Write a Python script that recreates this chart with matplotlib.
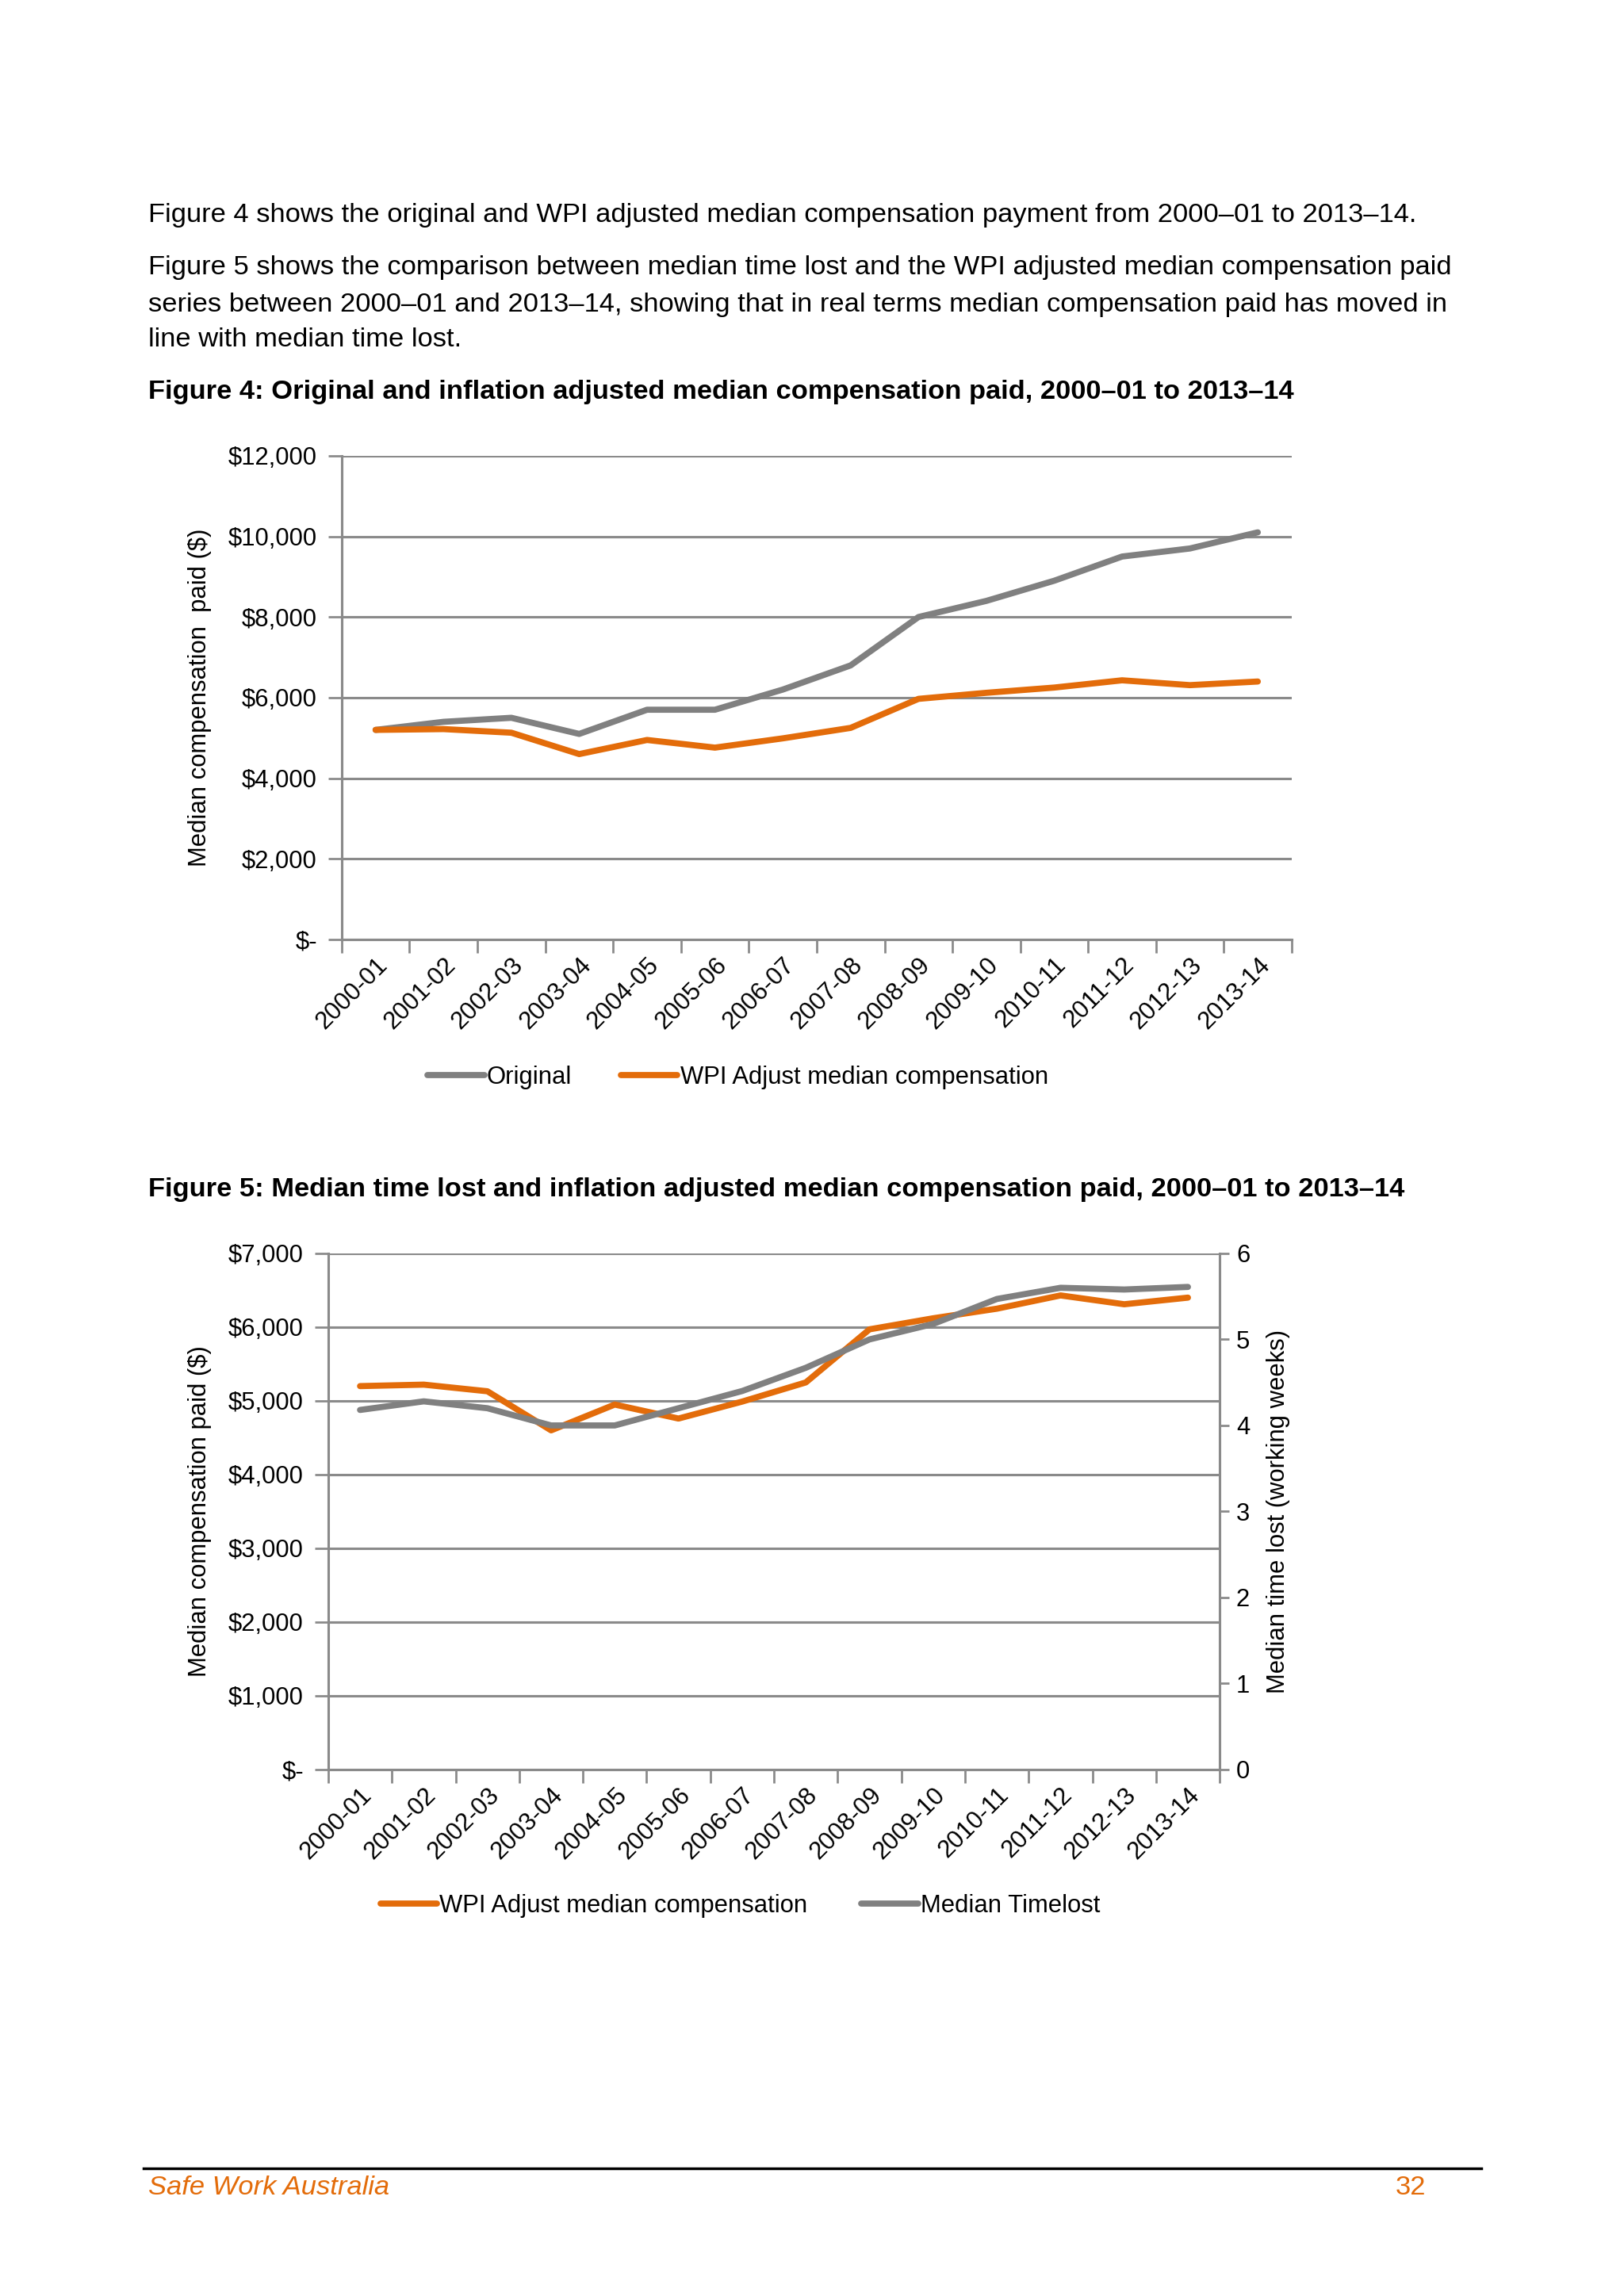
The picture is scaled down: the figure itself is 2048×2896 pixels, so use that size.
import matplotlib.pyplot as plt
from matplotlib.ticker import FuncFormatter, FixedLocator

# Datos
years = ["2000-01", "2001-02", "2002-03", "2003-04", "2004-05", "2005-06", "2006-07",
         "2007-08", "2008-09", "2009-10", "2010-11", "2011-12", "2012-13", "2013-14"]
original = [5200, 5400, 5500, 5100, 5700, 5700, 6200, 6800, 8000, 8400, 8900, 9500, 9700, 10100]
wpi_adjusted = [5200, 5220, 5130, 4600, 4950, 4760, 4990, 5250, 5970, 6120, 6250, 6430, 6310, 6400]
timelost = [4.18, 4.28, 4.20, 4.00, 4.00, 4.20, 4.40, 4.67, 5.00, 5.18, 5.47, 5.60, 5.58, 5.61]

ORANGE = "#E36C0A"
GREY = "#808080"
AXGREY = "#8A8A8A"
CHART_FS = 9

plt.rcParams['font.family'] = ['Liberation Sans', 'DejaVu Sans']
plt.rcParams['font.size'] = 10

fig = plt.figure(figsize=(2048 / 248, 2896 / 248), dpi=248)


def money(v, pos):
    if v == 0:
        return "$-"
    return "${:,.0f}".format(v)


def style_axis(ax, ymax, ystep):
    x = range(len(years))
    ax.set_xlim(-0.5, len(years) - 0.5)
    ax.set_ylim(0, ymax)
    ax.set_yticks(range(0, ymax + 1, ystep))
    ax.yaxis.set_major_formatter(FuncFormatter(money))
    ax.set_xticks(list(x))
    ax.set_xticklabels(years, rotation=45, ha="right", rotation_mode="anchor")
    ax.xaxis.set_minor_locator(FixedLocator([i - 0.5 for i in range(len(years) + 1)]))
    ax.tick_params(axis="x", which="major", length=0, pad=5, labelsize=CHART_FS)
    ax.tick_params(axis="x", which="minor", length=5, color=AXGREY, width=0.8)
    ax.tick_params(axis="y", length=5, color=AXGREY, width=0.8, pad=4, labelsize=CHART_FS)
    ax.grid(axis="y", color=AXGREY, linewidth=0.9)
    ax.set_axisbelow(True)
    for s in ["top", "right"]:
        ax.spines[s].set_visible(False)
    for s in ["left", "bottom"]:
        ax.spines[s].set_color(AXGREY)
        ax.spines[s].set_linewidth(0.9)


# Texto de la pagina
tx = 187 / 2048
fig.text(tx, 0.9062, "Figure 4 shows the original and WPI adjusted median compensation payment from 2000\u201301 to 2013\u201314.",
         va="center", fontsize=10)
fig.text(tx, 0.8834, "Figure 5 shows the comparison between median time lost and the WPI adjusted median compensation paid",
         va="center", fontsize=10)
fig.text(tx, 0.8671, "series between 2000\u201301 and 2013\u201314, showing that in real terms median compensation paid has moved in",
         va="center", fontsize=10)
fig.text(tx, 0.8519, "line with median time lost.", va="center", fontsize=10)
fig.text(tx, 0.8294, "Figure 4: Original and inflation adjusted median compensation paid, 2000\u201301 to 2013\u201314",
         va="center", fontsize=10, fontweight="bold")
fig.text(tx, 0.4818, "Figure 5: Median time lost and inflation adjusted median compensation paid, 2000\u201301 to 2013\u201314",
         va="center", fontsize=10, fontweight="bold")

# Figura 4
ax1 = fig.add_axes([0.2104, 0.5908, 0.585, 0.2107])
style_axis(ax1, 12000, 2000)
ax1.plot(range(len(years)), original, color=GREY, lw=2.25, label="Original", solid_capstyle="round")
ax1.plot(range(len(years)), wpi_adjusted, color=ORANGE, lw=2.25, label="WPI Adjust median compensation",
         solid_capstyle="round")
ax1.set_ylabel("Median compensation  paid ($)", labelpad=6, fontsize=CHART_FS)
ax1.legend(loc="center", bbox_to_anchor=(0.417, -0.285), ncol=2, frameon=False, fontsize=CHART_FS,
           handlelength=2.3, handletextpad=0.1, columnspacing=2.0)

# Figura 5
ax2 = fig.add_axes([0.2021, 0.2293, 0.549, 0.2248])
style_axis(ax2, 7000, 1000)
ax2.spines["right"].set_visible(True)
ax2.spines["right"].set_color(AXGREY)
ax2.spines["right"].set_linewidth(0.9)
l1, = ax2.plot(range(len(years)), wpi_adjusted, color=ORANGE, lw=2.25, label="WPI Adjust median compensation",
               solid_capstyle="round")
ax2.set_ylabel("Median compensation paid ($)", labelpad=6, fontsize=CHART_FS)

ax3 = ax2.twinx()
ax3.set_ylim(0, 6)
ax3.set_yticks(range(0, 7))
l2, = ax3.plot(range(len(years)), timelost, color=GREY, lw=2.25, label="Median Timelost", solid_capstyle="round")
ax3.tick_params(axis="y", length=3.5, color=AXGREY, width=0.8, pad=2.5, labelsize=CHART_FS)
for s in ["top", "left", "bottom"]:
    ax3.spines[s].set_visible(False)
ax3.spines["right"].set_color(AXGREY)
ax3.set_ylabel("Median time lost (working weeks)", labelpad=6, fontsize=CHART_FS)
ax2.legend(handles=[l1, l2], loc="center", bbox_to_anchor=(0.462, -0.264), ncol=2, frameon=False,
           fontsize=CHART_FS, handlelength=2.3, handletextpad=0.1, columnspacing=2.2)

# Pie de pagina
fig.add_artist(plt.Line2D([181 / 2048, 1868 / 2048], [1 - 2735 / 2896] * 2, color="black", lw=1.0))
fig.text(tx, 1 - 2760 / 2896, "Safe Work Australia", color=ORANGE, style="italic", va="center", fontsize=10)
fig.text(1798 / 2048, 1 - 2760 / 2896, "32", color=ORANGE, va="center", ha="right", fontsize=10)

fig.savefig("out.png", dpi=248, facecolor="white")
